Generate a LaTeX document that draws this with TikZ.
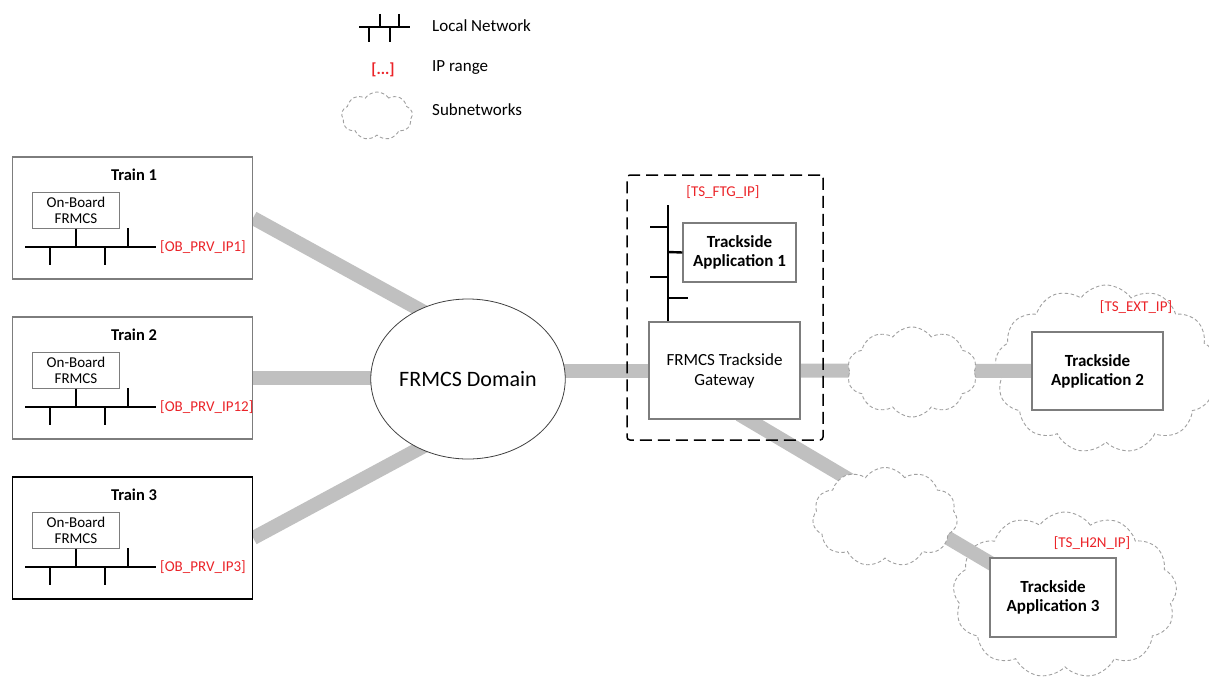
\documentclass[tikz,border=0pt]{standalone}
\usepackage{fontspec}
\setmainfont{Carlito}
\usetikzlibrary{shapes.geometric,shapes.symbols,backgrounds,calc}
\definecolor{linkgray}{RGB}{192,192,192}
\definecolor{boxgray}{RGB}{125,125,125}
\definecolor{ipred}{RGB}{235,35,40}
\definecolor{cloudgray}{RGB}{160,160,160}
\tikzset{
  trainbox/.style={draw=boxgray, line width=1.1pt, fill=white, rectangle, inner sep=0pt},
  obbox/.style={draw=boxgray, line width=1pt, fill=white, rectangle, align=center, inner sep=0pt,
    minimum width=87pt, minimum height=36pt, font=\fontsize{15}{16}\selectfont},
  title/.style={font=\fontsize{16.5}{18}\selectfont\bfseries, inner sep=0pt},
  iplabel/.style={text=ipred, font=\fontsize{15}{16}\selectfont, inner sep=0pt},
  busline/.style={line width=2.4pt, black},
  appbox/.style={draw=boxgray, line width=1.1pt, fill=white, rectangle, align=center, inner sep=0pt,
    font=\fontsize{17}{19}\selectfont\bfseries},
  gwbox/.style={draw=boxgray, line width=1.1pt, fill=white, rectangle, align=center, inner sep=0pt,
    font=\fontsize{17}{20}\selectfont},
  subnet/.style={cloud, cloud puffs=#1, cloud puff arc=110, cloud ignores aspect, draw=cloudgray,
    dash pattern=on 3.5pt off 2.5pt, line width=0.9pt, inner sep=0pt},
  link/.style={draw=linkgray, line width=14pt},
  legtext/.style={anchor=west, font=\fontsize{17}{19}\selectfont, inner sep=0pt},
}
\newcommand\trainunit[5]{%
  \node[trainbox,#5,minimum width=240pt,minimum height=122pt] (train#1) at (132.5,{#2+61}) {};
  \node[title] (title#1) at (134,{#2+18}) {#3};
  \node[obbox] (ob#1) at (76,{#2+53}) {On-Board\\FRMCS};
  \coordinate (bus#1l) at (25,{#2+90});
  \coordinate (bus#1r) at (156,{#2+90});
  \draw[busline] (bus#1l) -- (bus#1r);
  \draw[busline] (ob#1.south) -- (ob#1.south |- bus#1l);
  \draw[busline] (128,{#2+71}) -- (128,{#2+90});
  \draw[busline] (50,{#2+90}) -- (50,{#2+108});
  \draw[busline] (105,{#2+90}) -- (105,{#2+108});
  \node[iplabel, anchor=west] (ip#1) at ($(bus#1r)+(4,0)$) {#4};
}
\begin{document}
\begin{tikzpicture}[x=1pt,y=-1pt]
\useasboundingbox (0,0) rectangle (1209,677);

% ---------- legend ----------
\coordinate (lnl) at (359,27);
\coordinate (lnr) at (410,27);
\draw[busline] (lnl) -- (lnr);
\draw[busline] (380,14) -- (380,27);
\draw[busline] (399,14) -- (399,27);
\draw[busline] (369,27) -- (369,42);
\draw[busline] (390,27) -- (390,42);
\node[legtext] (lglocal) at (432,26) {Local Network};
\node[text=ipred, font=\fontsize{16}{18}\selectfont\bfseries, inner sep=0pt] (lgip) at (383,70) {[...]};
\node[legtext] (lgiptext) at (432,68) {IP range};
\node[subnet=9, minimum width=71pt, minimum height=48pt] (lgcloud) at (377,116) {};
\node[legtext] (lgsub) at (432,110) {Subnetworks};

% ---------- trains ----------
\trainunit{1}{157}{Train 1}{[OB\_PRV\_IP1]}{}
\trainunit{2}{317}{Train 2}{[OB\_PRV\_IP12]}{}
\trainunit{3}{477}{Train 3}{[OB\_PRV\_IP3]}{draw=black, line width=1.5pt}

% ---------- domain ----------
\node[ellipse, draw=black!75, line width=0.8pt, fill=white, minimum width=194pt, minimum height=160pt,
  inner sep=0pt, font=\fontsize{22}{24}\selectfont] (domain) at (468,379) {FRMCS Domain};

% ---------- FTG area ----------
\node[draw=black, line width=1.5pt, dash pattern=on 12pt off 6pt, rounded corners=3pt,
  minimum width=196pt, minimum height=265pt, inner sep=0pt] (ftg) at (725,307.5) {};
\node[iplabel] (ipftg) at (723,192) {[TS\_FTG\_IP]};
\node[appbox, minimum width=113pt, minimum height=59pt] (ta1) at (739.5,252.5) {Trackside\\Application 1};
\node[gwbox, minimum width=151pt, minimum height=97pt] (gateway) at (724.5,370.5) {FRMCS Trackside\\Gateway};
\coordinate (vtop) at (668,205);
\draw[busline] (vtop) -- (vtop |- gateway.north);
\draw[busline] (650,227) -- (668,227);
\draw[busline] (668,252) -- (ta1.west);
\draw[busline] (650,277) -- (668,277);
\draw[busline] (668,298) -- (688,298);

% ---------- subnetworks ----------
\node[subnet=10, fill=white, minimum width=130pt, minimum height=90pt] (cloud1) at (912,372) {};
\node[subnet=11, fill=white, minimum width=145pt, minimum height=99pt] (cloud3) at (885,517) {};
\node[appbox, minimum width=131pt, minimum height=78pt] (ta2) at (1097.5,371) {Trackside\\Application 2};
\node[appbox, minimum width=126pt, minimum height=79pt] (ta3) at (1053,597.5) {Trackside\\Application 3};
\node[iplabel] (ipext) at (1136,307) {[TS\_EXT\_IP]};
\node[iplabel] (iph2n) at (1092,543) {[TS\_H2N\_IP]};

% ---------- background: big clouds and links ----------
\begin{scope}[on background layer]
  \node[subnet=13, minimum width=222pt, minimum height=168pt] (cloudext) at (1106,369) {};
  \node[subnet=13, minimum width=224pt, minimum height=166pt] (cloudh2n) at (1065,595) {};
  \draw[link] (train1.east) -- ($(train1.east)!1.15!(domain.125)$);
  \draw[link] (train2) -- (train2 -| domain);
  \draw[link] (train3.east) -- ($(train3.east)!1.15!(domain.235)$);
  \draw[link] (domain.center |- gateway) -- (gateway);
  \draw[link] (gateway) -- (ta2);
  \draw[link] ($(gateway.south)+(15,-5)$) -- ($(ta3.north west)+(5,8)$);
\end{scope}
\end{tikzpicture}
\end{document}
